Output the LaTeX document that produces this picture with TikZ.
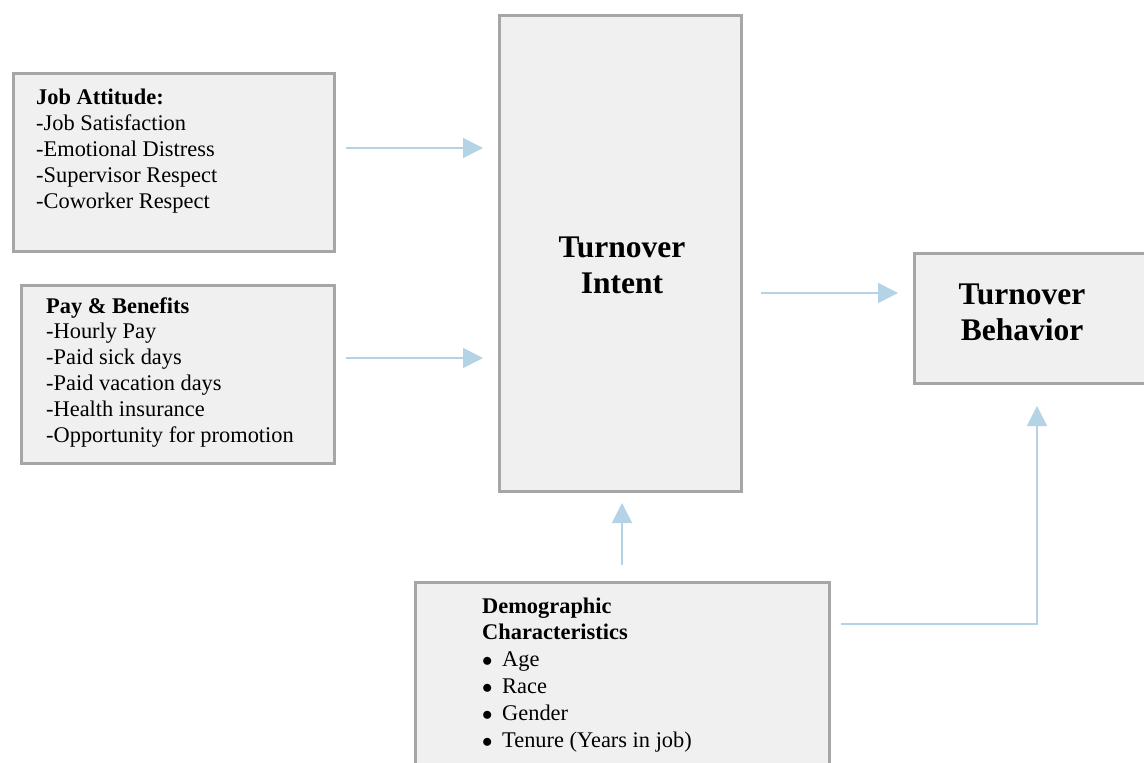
\documentclass[tikz,border=0pt]{standalone}
\usepackage{fontspec}
\setmainfont{Liberation Serif}
\usetikzlibrary{arrows.meta}
\definecolor{boxfill}{HTML}{F0F0F0}
\definecolor{boxline}{HTML}{A6A6A6}
\definecolor{flowblue}{HTML}{B5D3E6}
\tikzset{
  box/.style={draw=boxline, line width=3pt, fill=boxfill, rectangle, inner sep=0pt},
  body/.style={inner sep=0pt, align=left, font=\fontsize{22.4}{25.8}\selectfont},
  title/.style={inner sep=0pt, align=center, font=\fontsize{31.5}{36}\selectfont\bfseries},
  flow/.style={draw=flowblue, line width=1.6pt, -{Triangle[length=20pt,width=20pt]}}
}
\newcommand{\bulletitem}[1]{\makebox[20pt][l]{$\bullet$}#1}
\begin{document}
\begin{tikzpicture}[x=1pt,y=-1pt]
\clip (0,0) rectangle (1144,763);
\fill[white] (0,0) rectangle (1144,763);

% boxes
\node[box, anchor=north west, minimum width=321pt, minimum height=178pt] (ja) at (11.5,72) {};
\node[box, anchor=north west, minimum width=313pt, minimum height=178pt] (pb) at (19.5,284) {};
\node[box, anchor=north west, minimum width=242.5pt, minimum height=476.5pt] (ti) at (497.5,13.5) {};
\node[box, anchor=north west, minimum width=250pt, minimum height=130.5pt] (tb) at (912.5,251.5) {};
\node[box, anchor=north west, minimum width=414.5pt, minimum height=200pt] (dc) at (413.5,581) {};

% texts, placed by the baseline of their last line
\node[body, anchor=base west] (jat) at (36,208) {\textbf{Job Attitude:}\\-Job Satisfaction\\-Emotional Distress\\-Supervisor Respect\\-Coworker Respect};
\node[body, anchor=base west] (pbt) at (46,442) {\textbf{Pay \& Benefits}\\-Hourly Pay\\-Paid sick days\\-Paid vacation days\\-Health insurance\\-Opportunity for promotion};
\node[title, anchor=base] (tit) at (622,293) {Turnover\\Intent};
\node[title, anchor=base] (tbt) at (1022,340) {Turnover\\Behavior};
\node[body, anchor=base west, font=\fontsize{22.4}{26.8}\selectfont] (dct) at (482,747) {\textbf{Demographic}\\\textbf{Characteristics}\\\bulletitem{Age}\\\bulletitem{Race}\\\bulletitem{Gender}\\\bulletitem{Tenure (Years in job)}};

% rows and columns of the connectors
\coordinate (r1) at (0,148);
\coordinate (r2) at (0,358);
\coordinate (r3) at (0,293);
\coordinate (c1) at (622,0);
\coordinate (elb) at (1037,624);

% connectors
\draw[flow, shorten <=10.5pt, shorten >=14.5pt] (ja.east |- r1) -- (ti.west |- r1);
\draw[flow, shorten <=10.5pt, shorten >=14.5pt] (pb.east |- r2) -- (ti.west |- r2);
\draw[flow, shorten <=18pt, shorten >=14.5pt] (ti.east |- r3) -- (tb.west |- r3);
\draw[flow, shorten <=16pt, shorten >=10pt] (c1 |- dc.north) -- (c1 |- ti.south);
\draw[flow, shorten <=10pt, shorten >=21pt] (dc.east |- elb) -- (elb) -- (elb |- tb.south);
\end{tikzpicture}
\end{document}
